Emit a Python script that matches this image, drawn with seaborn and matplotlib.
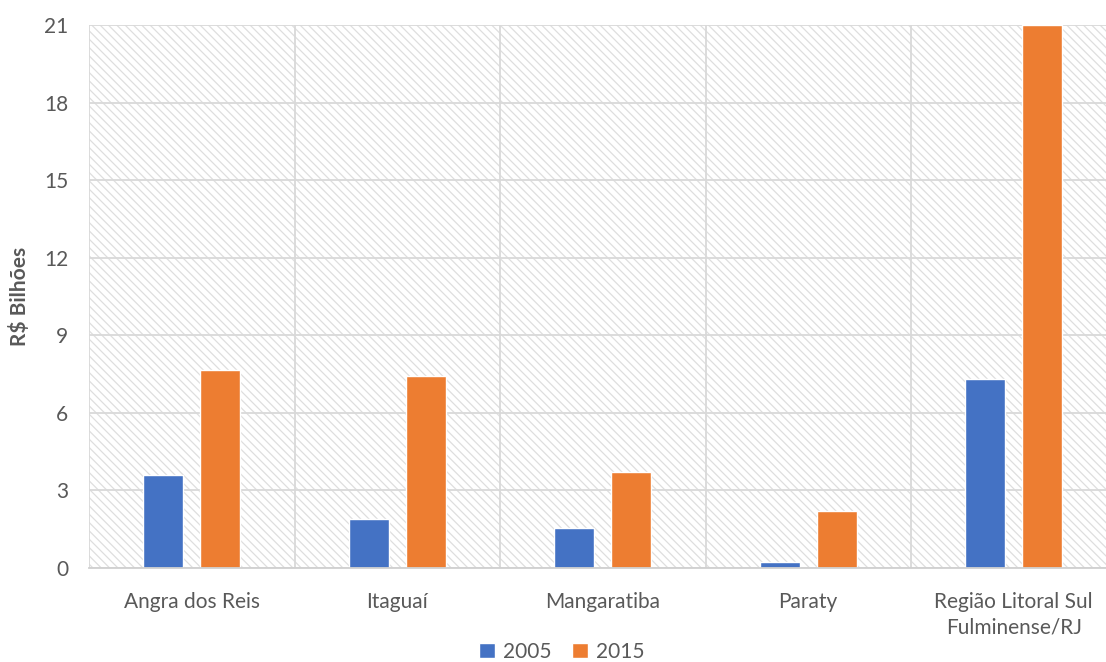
import matplotlib
matplotlib.use("Agg")
import matplotlib.pyplot as plt
import seaborn as sns
import pandas as pd
from matplotlib.patches import Rectangle

categories = ["Angra dos Reis", "Itaguaí", "Mangaratiba", "Paraty",
              "Região Litoral Sul\nFulminense/RJ"]
years = ["2005", "2015"]
values_2005 = [3.60, 1.90, 1.55, 0.23, 7.30]
values_2015 = [7.66, 7.42, 3.71, 2.20, 21.0]
y_ticks = [0, 3, 6, 9, 12, 15, 18, 21]

df = pd.DataFrame({
    "Município": categories * 2,
    "Ano": [years[0]] * len(categories) + [years[1]] * len(categories),
    "Valor": values_2005 + values_2015,
})

sns.set_theme(style="white")
plt.rcParams['font.family'] = ['Lato', 'DejaVu Sans']
plt.rcParams['hatch.linewidth'] = 0.9

FS = 15
W, H = 1106, 662
fig = plt.figure(figsize=(W / 100, H / 100), dpi=100)
left, right, top, bottom = 89, 1106, 25, 568
ax = fig.add_axes([left / W, 1 - bottom / H, (right - left) / W, (bottom - top) / H])

# hatched background
ax.add_patch(Rectangle((0, 0), 1, 1, transform=ax.transAxes, facecolor="white",
                       hatch="\\\\\\\\", edgecolor="#dedede", linewidth=0, zorder=0))

palette = {"2005": "#4472C4", "2015": "#ED7D31"}
sns.barplot(data=df, x="Município", y="Valor", hue="Ano", palette=palette,
            width=0.556, gap=0.30, ax=ax, zorder=3, saturation=1, legend=True)

ax.set_xlim(-0.5, -0.5 + (right - left) / 205.5)
ax.set_ylim(0, 21)
ax.set_yticks(y_ticks)
ax.set_yticklabels([str(t) for t in y_ticks])

for sp in ["top", "right", "left"]:
    ax.spines[sp].set_visible(False)
ax.spines["bottom"].set_color("#d0d0d0")
ax.spines["bottom"].set_linewidth(1.3)
ax.spines["bottom"].set_zorder(4)

ax.yaxis.grid(True, color="#d9d9d9", linewidth=1.3, zorder=1)
ax.set_axisbelow(True)
for i in range(len(categories) + 1):
    ax.axvline(-0.5 + i, color="#d9d9d9", linewidth=1.3, zorder=1)

ax.tick_params(axis="both", length=0, colors="#595959", labelsize=FS)
ax.tick_params(axis="y", pad=15)
ax.tick_params(axis="x", pad=17)
for lbl in ax.get_xticklabels():
    lbl.set_linespacing(1.35)

ax.set_xlabel("")
ax.set_ylabel("R$ Bilhões", fontsize=FS, fontweight="bold", color="#595959")
ax.yaxis.set_label_coords(-0.058, 0.5)

handles, labels = ax.get_legend_handles_labels()
ax.get_legend().remove()
fig.legend(handles, labels, loc="center", bbox_to_anchor=(562 / W, 1 - 652 / H),
           ncol=2, frameon=False, fontsize=FS, handlelength=0.75, handleheight=0.75,
           handletextpad=0.4, columnspacing=1.0, labelcolor="#595959")

fig.savefig("out.png", dpi=100)
